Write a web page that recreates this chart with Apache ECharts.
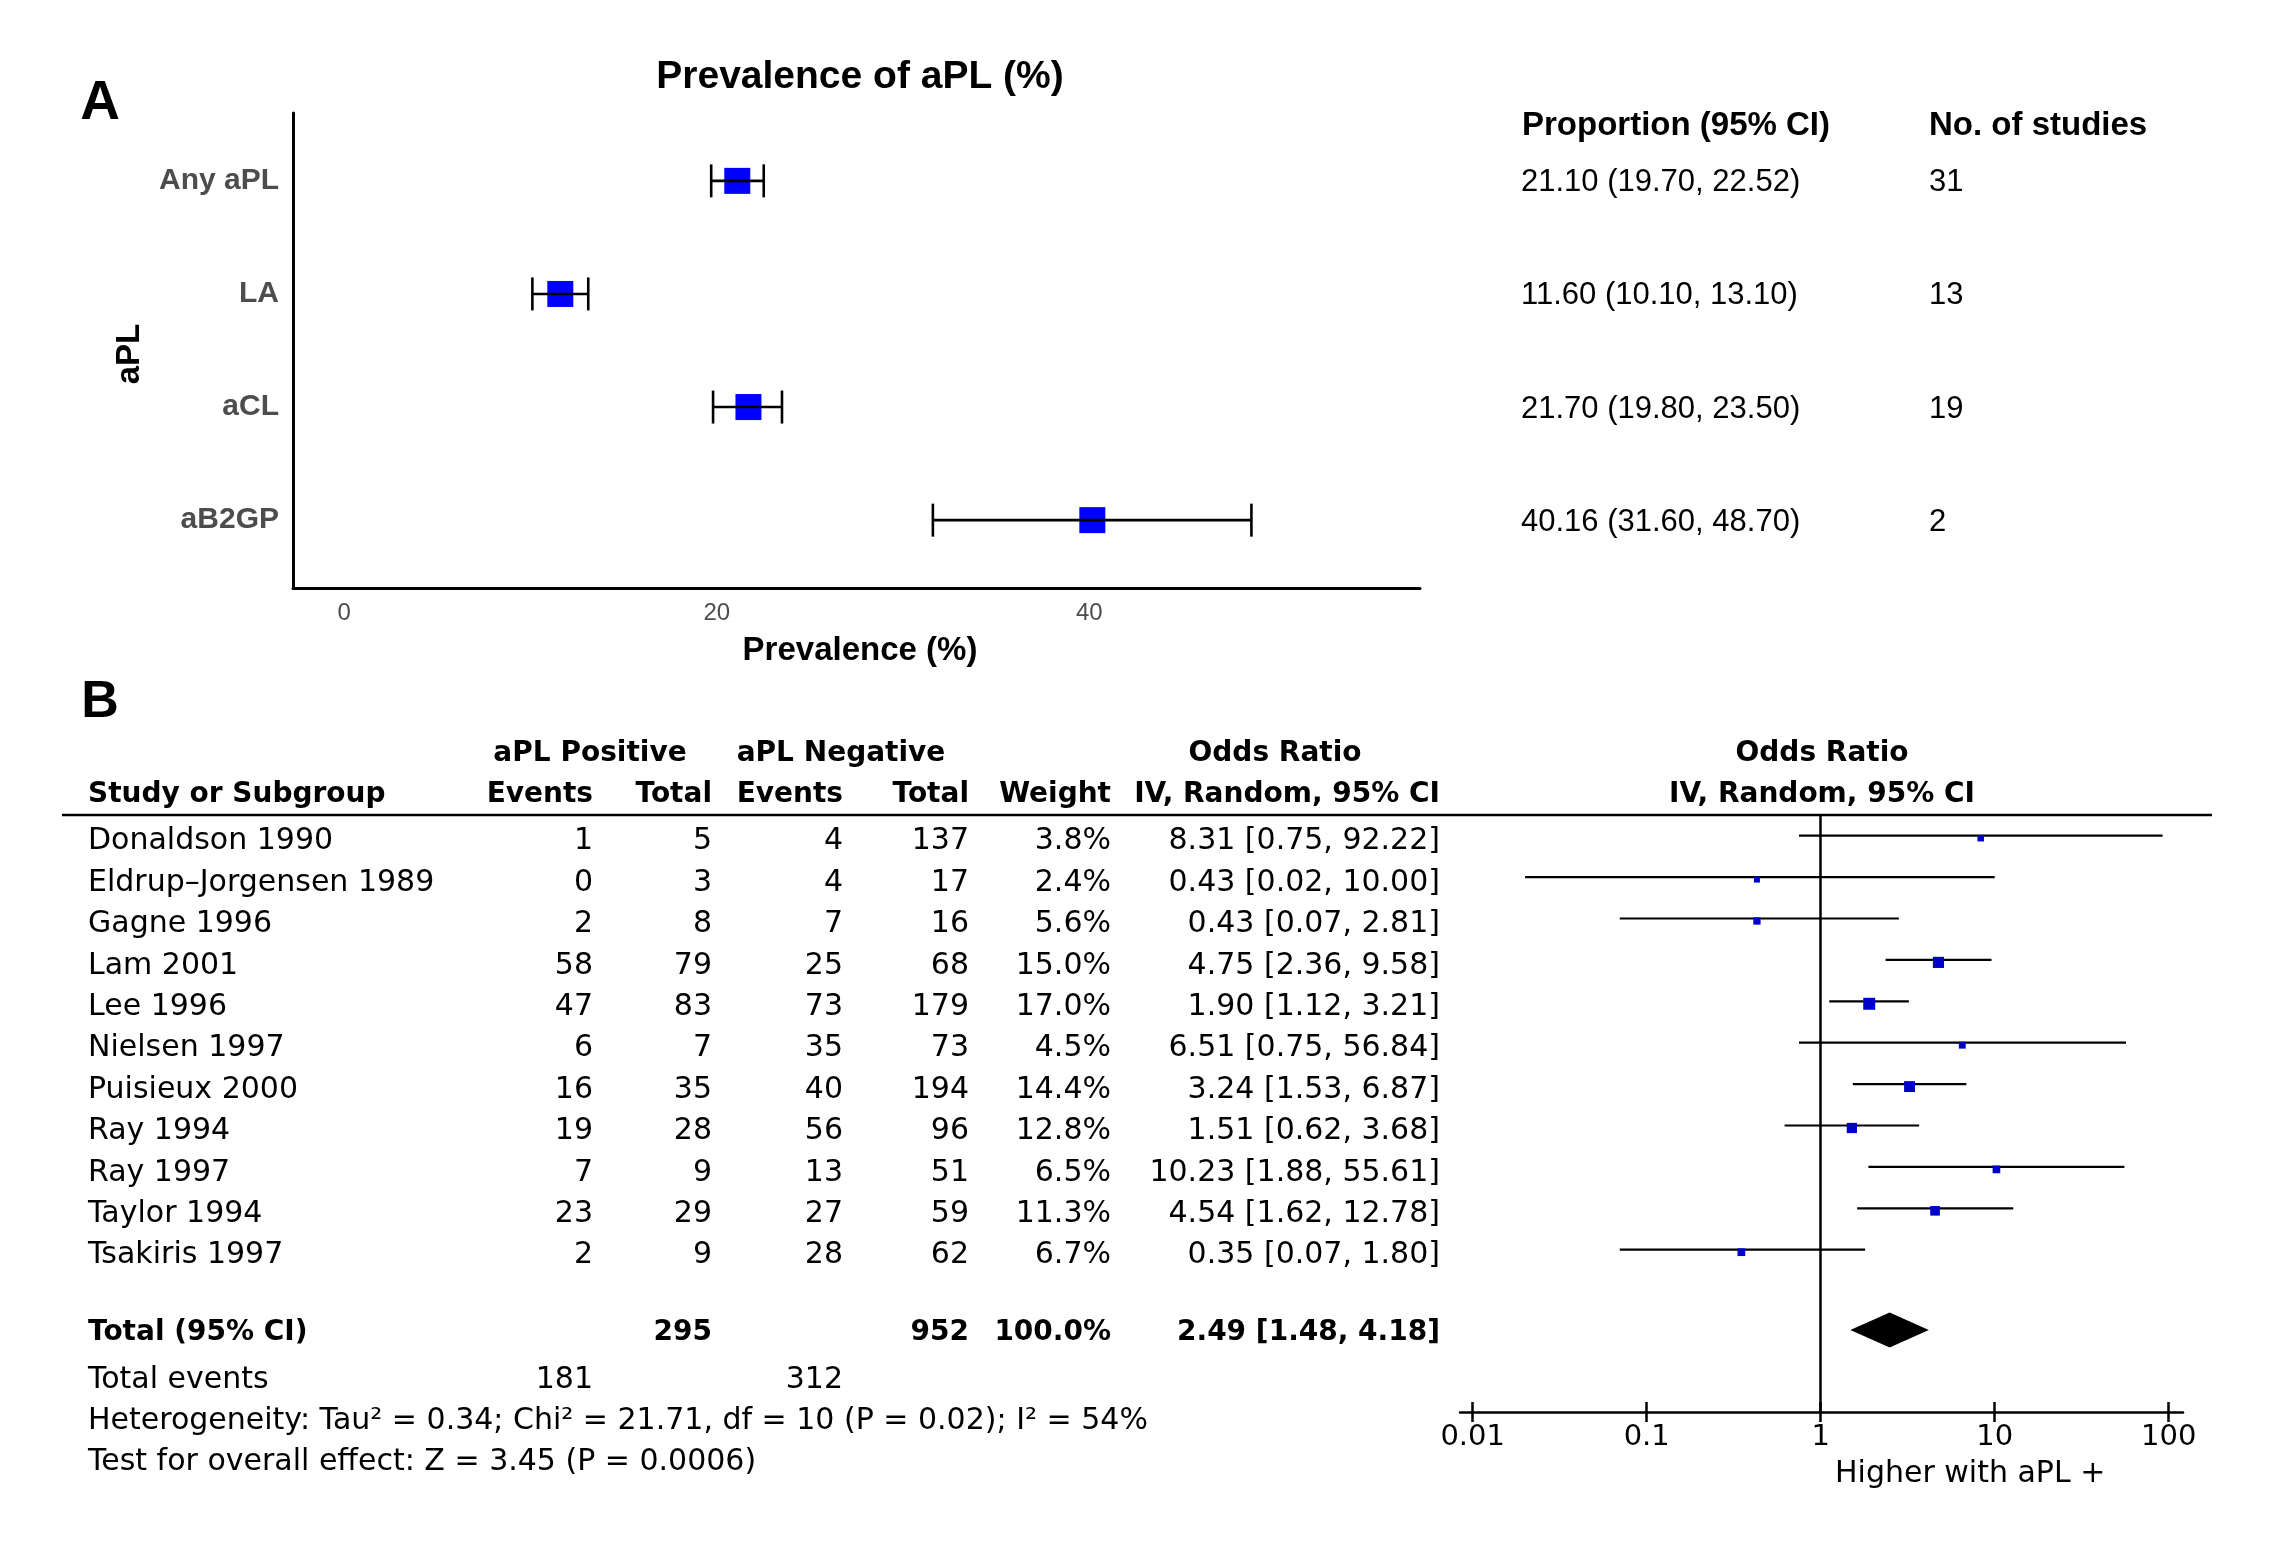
<!DOCTYPE html>
<html><head><meta charset="utf-8">
<script src="https://cdn.jsdelivr.net/npm/echarts@6/dist/echarts.min.js"></script>
<style>html,body{margin:0;padding:0;background:#fff}#c{width:2273px;height:1557px}</style>
</head><body><div id="c"></div>
<script>
// ---------- Panel A data ----------
const aplCategories = ['Any aPL', 'LA', 'aCL', 'aB2GP'];
const aplEstimate = [21.10, 11.60, 21.70, 40.16];
const aplLower = [19.70, 10.10, 19.80, 31.60];
const aplUpper = [22.52, 13.10, 23.50, 48.70];
const aplStudies = [31, 13, 19, 2];
const prevTicks = [0, 20, 40];

// ---------- Panel B data ----------
const studies = ['Donaldson 1990', 'Eldrup\u2013Jorgensen 1989', 'Gagne 1996', 'Lam 2001', 'Lee 1996',
  'Nielsen 1997', 'Puisieux 2000', 'Ray 1994', 'Ray 1997', 'Taylor 1994', 'Tsakiris 1997'];
const posEvents = [1, 0, 2, 58, 47, 6, 16, 19, 7, 23, 2];
const posTotal = [5, 3, 8, 79, 83, 7, 35, 28, 9, 29, 9];
const negEvents = [4, 4, 7, 25, 73, 35, 40, 56, 13, 27, 28];
const negTotal = [137, 17, 16, 68, 179, 73, 194, 96, 51, 59, 62];
const weights = [3.8, 2.4, 5.6, 15.0, 17.0, 4.5, 14.4, 12.8, 6.5, 11.3, 6.7];
const orEst = [8.31, 0.43, 0.43, 4.75, 1.90, 6.51, 3.24, 1.51, 10.23, 4.54, 0.35];
const orLow = [0.75, 0.02, 0.07, 2.36, 1.12, 0.75, 1.53, 0.62, 1.88, 1.62, 0.07];
const orHigh = [92.22, 10.00, 2.81, 9.58, 3.21, 56.84, 6.87, 3.68, 55.61, 12.78, 1.80];
const pooled = [2.49, 1.48, 4.18];          // estimate, lower, upper
const totalPos = 295, totalNeg = 952, totalWeight = 100.0;
const totalPosEvents = 181, totalNegEvents = 312;
const heterogeneityText = 'Heterogeneity: Tau\u00b2 = 0.34; Chi\u00b2 = 21.71, df = 10 (P = 0.02); I\u00b2 = 54%';
const overallText = 'Test for overall effect: Z = 3.45 (P = 0.0006)';
const orTicks = [0.01, 0.1, 1, 10, 100];

// ---------- styling / layout ----------
const LS = '"Liberation Sans", Arial, sans-serif';
const DJ = '"DejaVu Sans", sans-serif';
const FS = 30;      // panel B font size
const FSB = 28;     // panel B bold font size
const ROW_TOTAL = 11.87, ROW_EVENTS = 13, ROW_HET = 14, ROW_TEST = 15;

const chart = echarts.init(document.getElementById('c'), null, {renderer: 'canvas'});

function txt(text, x, y, align, font, fill) {
  return {type: 'text', style: {text: text, x: x, y: y, align: align, verticalAlign: 'middle', font: font, fill: fill || '#000'}};
}

const option = {
  backgroundColor: '#fff',
  animation: false,
  grid: [
    {left: 293, top: 113, width: 1127, height: 475},   // A plot
    {left: 1500, top: 113, width: 700, height: 475},   // A table
    {left: 63, top: 815, width: 1400, height: 665},    // B table
    {left: 1460, top: 815, width: 723, height: 597}    // B forest
  ],
  xAxis: [
    {gridIndex: 0, type: 'value', min: -2.75, max: 57.75,
      axisLine: {show: true, onZero: false, lineStyle: {color: '#000', width: 3}},
      axisTick: {show: false}, splitLine: {show: false},
      axisLabel: {customValues: prevTicks, color: '#4d4d4d', fontSize: 24, fontFamily: LS, margin: 13}},
    {gridIndex: 1, type: 'value', min: 0, max: 1, show: false},
    {gridIndex: 2, type: 'value', min: 0, max: 1, show: false},
    {gridIndex: 3, type: 'log', min: 0.008453, max: 120.8, position: 'bottom',
      axisLine: {show: true, onZero: false, lineStyle: {color: '#000', width: 2.5}},
      axisTick: {show: true, customValues: orTicks, length: 10, lineStyle: {color: '#000', width: 2.5}},
      splitLine: {show: false},
      axisLabel: {customValues: orTicks, color: '#000', fontSize: 29, fontFamily: DJ, margin: 11,
        formatter: v => String(v)}},
    {gridIndex: 3, type: 'log', min: 0.008453, max: 120.8, position: 'bottom',
      axisLine: {show: false, onZero: false},
      axisTick: {show: true, inside: true, customValues: orTicks, length: 10, lineStyle: {color: '#000', width: 2.5}},
      splitLine: {show: false}, axisLabel: {show: false}}
  ],
  yAxis: [
    {gridIndex: 0, type: 'value', min: 0.4, max: 4.6,
      axisLine: {show: true, onZero: false, lineStyle: {color: '#000', width: 3}},
      axisTick: {show: false}, splitLine: {show: false},
      axisLabel: {customValues: [1, 2, 3, 4], formatter: v => aplCategories[aplCategories.length - v],
        color: '#4d4d4d', fontSize: 30, fontWeight: 'bold', fontFamily: LS, margin: 14}},
    {gridIndex: 1, type: 'value', min: 0.4, max: 4.6, show: false},
    {gridIndex: 2, type: 'value', min: -0.64, max: 15.42, inverse: true, show: false},
    {gridIndex: 3, type: 'value', min: -0.64, max: 13.78, inverse: true, show: false}
  ],
  series: [
    // Panel A squares
    {type: 'scatter', xAxisIndex: 0, yAxisIndex: 0, symbol: 'rect', symbolSize: 26, z: 2,
      itemStyle: {color: '#0000ff', opacity: 1},
      data: aplEstimate.map((v, i) => [v, aplCategories.length - i])},
    // Panel A error bars
    {type: 'custom', xAxisIndex: 0, yAxisIndex: 0, z: 3,
      data: aplLower.map((lo, i) => [lo, aplUpper[i], aplCategories.length - i]),
      renderItem: (params, api) => {
        const a = api.coord([api.value(0), api.value(2)]);
        const b = api.coord([api.value(1), api.value(2)]);
        const h = 16.5, st = {stroke: '#000', lineWidth: 2.6};
        return {type: 'group', children: [
          {type: 'line', shape: {x1: a[0], y1: a[1], x2: b[0], y2: b[1]}, style: st},
          {type: 'line', shape: {x1: a[0], y1: a[1] - h, x2: a[0], y2: a[1] + h}, style: st},
          {type: 'line', shape: {x1: b[0], y1: b[1] - h, x2: b[0], y2: b[1] + h}, style: st}
        ]};
      }},
    // Panel A table text
    {type: 'custom', xAxisIndex: 1, yAxisIndex: 1,
      data: aplEstimate.map((v, i) => [0, aplCategories.length - i]),
      renderItem: (params, api) => {
        const i = params.dataIndex;
        const p = api.coord([0, api.value(1)]);
        const s = aplEstimate[i].toFixed(2) + ' (' + aplLower[i].toFixed(2) + ', ' + aplUpper[i].toFixed(2) + ')';
        return {type: 'group', children: [
          txt(s, p[0] + 21, p[1] + 2, 'left', '31px ' + LS),
          txt(String(aplStudies[i]), p[0] + 429, p[1] + 2, 'left', '31px ' + LS)
        ]};
      }},
    // Panel B study rows
    {type: 'custom', xAxisIndex: 2, yAxisIndex: 2,
      data: studies.map((s, i) => [0, i]),
      renderItem: (params, api) => {
        const i = params.dataIndex;
        const y = api.coord([0, api.value(1)])[1];
        const f = FS + 'px ' + DJ;
        return {type: 'group', children: [
          txt(studies[i], 88, y, 'left', f),
          txt(String(posEvents[i]), 593, y, 'right', f),
          txt(String(posTotal[i]), 712, y, 'right', f),
          txt(String(negEvents[i]), 843, y, 'right', f),
          txt(String(negTotal[i]), 969, y, 'right', f),
          txt(weights[i].toFixed(1) + '%', 1111, y, 'right', f),
          txt(orEst[i].toFixed(2) + ' [' + orLow[i].toFixed(2) + ', ' + orHigh[i].toFixed(2) + ']', 1440, y, 'right', f)
        ]};
      }},
    // Panel B footer rows
    {type: 'custom', xAxisIndex: 2, yAxisIndex: 2,
      data: [[0, ROW_TOTAL], [0, ROW_EVENTS], [0, ROW_HET], [0, ROW_TEST]],
      renderItem: (params, api) => {
        const k = params.dataIndex;
        const y = api.coord([0, api.value(1)])[1];
        const f = FS + 'px ' + DJ, fb = 'bold ' + FSB + 'px ' + DJ;
        let ch;
        if (k === 0) ch = [
          txt('Total (95% CI)', 88, y, 'left', fb),
          txt(String(totalPos), 712, y, 'right', fb),
          txt(String(totalNeg), 969, y, 'right', fb),
          txt(totalWeight.toFixed(1) + '%', 1111, y, 'right', fb),
          txt(pooled[0].toFixed(2) + ' [' + pooled[1].toFixed(2) + ', ' + pooled[2].toFixed(2) + ']', 1440, y, 'right', fb)];
        else if (k === 1) ch = [
          txt('Total events', 88, y, 'left', f),
          txt(String(totalPosEvents), 593, y, 'right', f),
          txt(String(totalNegEvents), 843, y, 'right', f)];
        else if (k === 2) ch = [txt(heterogeneityText, 88, y, 'left', f)];
        else ch = [txt(overallText, 88, y, 'left', f)];
        return {type: 'group', children: ch};
      }},
    // Panel B CI lines
    {type: 'custom', xAxisIndex: 3, yAxisIndex: 3, z: 2,
      data: orLow.map((lo, i) => [lo, orHigh[i], i]),
      renderItem: (params, api) => {
        const a = api.coord([api.value(0), api.value(2) - 0.14]);
        const b = api.coord([api.value(1), api.value(2) - 0.14]);
        return {type: 'line', shape: {x1: a[0], y1: a[1], x2: b[0], y2: b[1]}, style: {stroke: '#000', lineWidth: 2.2}};
      }},
    // Panel B squares + line of no effect
    {type: 'scatter', xAxisIndex: 3, yAxisIndex: 3, symbol: 'rect', z: 3,
      itemStyle: {color: '#0000cc', opacity: 1},
      symbolSize: (val) => 5 + 0.41 * val[2],
      data: orEst.map((v, i) => [v, i - 0.08, weights[i]]),
      markLine: {silent: true, symbol: 'none', animation: false, label: {show: false},
        lineStyle: {color: '#000', width: 2.5, type: 'solid'},
        data: [{xAxis: 1}]}},
    // Panel B pooled diamond
    {type: 'custom', xAxisIndex: 3, yAxisIndex: 3, z: 3,
      data: [[pooled[1], pooled[0], pooled[2], ROW_TOTAL - 0.07]],
      renderItem: (params, api) => {
        const y = api.value(3);
        const l = api.coord([api.value(0), y]);
        const m = api.coord([api.value(1), y]);
        const r = api.coord([api.value(2), y]);
        const h = 17.5;
        return {type: 'polygon', shape: {points: [[l[0], l[1]], [m[0], m[1] - h], [r[0], r[1]], [m[0], m[1] + h]]},
          style: {fill: '#000'}};
      }}
  ],
  graphic: [
    {type: 'text', x: 100, y: 104, style: {text: 'A', font: 'bold 55px ' + LS, fill: '#000', align: 'center', verticalAlign: 'middle'}},
    {type: 'text', x: 860, y: 77, style: {text: 'Prevalence of aPL (%)', font: 'bold 39px ' + LS, fill: '#000', align: 'center', verticalAlign: 'middle'}},
    {type: 'text', x: 130, y: 354, rotation: Math.PI / 2, style: {text: 'aPL', font: 'bold 33px ' + LS, fill: '#000', align: 'center', verticalAlign: 'middle'}},
    {type: 'text', x: 860, y: 651, style: {text: 'Prevalence (%)', font: 'bold 33px ' + LS, fill: '#000', align: 'center', verticalAlign: 'middle'}},
    {type: 'text', x: 1522, y: 126, style: {text: 'Proportion (95% CI)', font: 'bold 33px ' + LS, fill: '#000', align: 'left', verticalAlign: 'middle'}},
    {type: 'text', x: 1929, y: 126, style: {text: 'No. of studies', font: 'bold 33px ' + LS, fill: '#000', align: 'left', verticalAlign: 'middle'}},
    {type: 'text', x: 100, y: 703, style: {text: 'B', font: 'bold 52px ' + LS, fill: '#000', align: 'center', verticalAlign: 'middle'}},
    {type: 'text', x: 590, y: 754, style: {text: 'aPL Positive', font: 'bold ' + FSB + 'px ' + DJ, fill: '#000', align: 'center', verticalAlign: 'middle'}},
    {type: 'text', x: 841, y: 754, style: {text: 'aPL Negative', font: 'bold ' + FSB + 'px ' + DJ, fill: '#000', align: 'center', verticalAlign: 'middle'}},
    {type: 'text', x: 1275, y: 754, style: {text: 'Odds Ratio', font: 'bold ' + FSB + 'px ' + DJ, fill: '#000', align: 'center', verticalAlign: 'middle'}},
    {type: 'text', x: 1822, y: 754, style: {text: 'Odds Ratio', font: 'bold ' + FSB + 'px ' + DJ, fill: '#000', align: 'center', verticalAlign: 'middle'}},
    {type: 'text', x: 88, y: 795, style: {text: 'Study or Subgroup', font: 'bold ' + FSB + 'px ' + DJ, fill: '#000', align: 'left', verticalAlign: 'middle'}},
    {type: 'text', x: 593, y: 795, style: {text: 'Events', font: 'bold ' + FSB + 'px ' + DJ, fill: '#000', align: 'right', verticalAlign: 'middle'}},
    {type: 'text', x: 712, y: 795, style: {text: 'Total', font: 'bold ' + FSB + 'px ' + DJ, fill: '#000', align: 'right', verticalAlign: 'middle'}},
    {type: 'text', x: 843, y: 795, style: {text: 'Events', font: 'bold ' + FSB + 'px ' + DJ, fill: '#000', align: 'right', verticalAlign: 'middle'}},
    {type: 'text', x: 969, y: 795, style: {text: 'Total', font: 'bold ' + FSB + 'px ' + DJ, fill: '#000', align: 'right', verticalAlign: 'middle'}},
    {type: 'text', x: 1111, y: 795, style: {text: 'Weight', font: 'bold ' + FSB + 'px ' + DJ, fill: '#000', align: 'right', verticalAlign: 'middle'}},
    {type: 'text', x: 1440, y: 795, style: {text: 'IV, Random, 95% CI', font: 'bold ' + FSB + 'px ' + DJ, fill: '#000', align: 'right', verticalAlign: 'middle'}},
    {type: 'text', x: 1822, y: 795, style: {text: 'IV, Random, 95% CI', font: 'bold ' + FSB + 'px ' + DJ, fill: '#000', align: 'center', verticalAlign: 'middle'}},
    {type: 'line', shape: {x1: 62, y1: 815, x2: 2212, y2: 815}, style: {stroke: '#000', lineWidth: 2.5}},
    {type: 'text', x: 1835, y: 1474, style: {text: 'Higher with aPL +', font: FS + 'px ' + DJ, fill: '#000', align: 'left', verticalAlign: 'middle'}}
  ]
};
chart.setOption(option);
</script>
</body></html>
